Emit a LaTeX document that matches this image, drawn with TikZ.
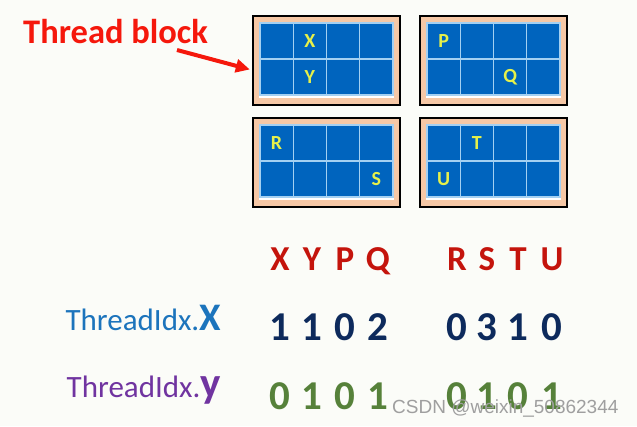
\documentclass[tikz,border=0pt]{standalone}
\usepackage{fontspec}
\setmainfont{Carlito}
\newfontfamily\markfont{Liberation Sans}
\usepackage{tikz}
\usetikzlibrary{positioning}
\usetikzlibrary{arrows.meta}
\usepackage{xcolor}
\definecolor{paper}{HTML}{FBFCF8}
\definecolor{peach}{HTML}{F6C8A6}
\definecolor{cellblue}{HTML}{0064BE}
\definecolor{gridline}{HTML}{A4D0F2}
\definecolor{tagyellow}{HTML}{E6F04A}
\definecolor{alertred}{HTML}{F5180C}
\definecolor{headred}{HTML}{C4140C}
\definecolor{navy}{HTML}{0D2A5C}
\definecolor{leaf}{HTML}{56813A}
\definecolor{idxblue}{HTML}{1C74BC}
\definecolor{idxpurple}{HTML}{7034A0}

\begin{document}
\begin{tikzpicture}[x=1pt,y=-1pt,
  frame/.style={draw=black,line width=2.5pt,fill=peach,minimum width=147pt,minimum height=89pt,inner sep=0pt},
  cell/.style={draw=gridline,line width=1.2pt,fill=cellblue,minimum width=33.25pt,minimum height=36pt,inner sep=0pt},
  tag/.style={text=tagyellow,inner sep=0pt,font=\bfseries\fontsize{20}{24}\selectfont},
  head/.style={anchor=base,inner sep=0pt,text=headred,font=\bfseries\fontsize{35}{40}\selectfont},
  xval/.style={anchor=base,inner sep=0pt,text=navy,font=\bfseries\fontsize{41}{46}\selectfont},
  yval/.style={anchor=base,inner sep=0pt,text=leaf,font=\bfseries\fontsize{41}{46}\selectfont},
  pointer/.style={draw=alertred,line width=4pt,-{Triangle[length=14pt,width=13pt]},shorten >=2pt}]
  \fill[paper] (0,0) rectangle (637,426);

  \foreach \blk/\cx/\cy in {blkA/326.5/60.5, blkB/493.5/60.5, blkC/326.5/162.5, blkD/493.5/162.5}{
    \node[frame] (\blk) at (\cx,\cy) {};
    \foreach \r in {1,2}
      \foreach \c in {1,...,4}
        \node[cell] (\blk-\r-\c) at (\cx-66.5+33.25*\c-16.625, \cy-37.5+36*\r-18) {};
    \draw[white,line width=2pt] ([yshift=-1.2pt]\blk-2-1.south west) -- ([yshift=-1.2pt]\blk-2-4.south east);
  }
  \foreach \blk/\r/\c/\ch in {blkA/1/2/X, blkA/2/2/Y, blkB/1/1/P, blkB/2/3/Q,
                              blkC/1/1/R, blkC/2/4/S, blkD/1/2/T, blkD/2/1/U}
    \node[tag] (tag\ch) at (\blk-\r-\c) {\ch};

  \node[anchor=base west,inner sep=0pt,text=alertred,font=\bfseries\fontsize{34.5}{40}\selectfont] (tb) at (23,43) {Thread block};
  \coordinate (tail) at (177,50);
  \draw[pointer] (tail) -- ([yshift=-9.5pt]blkA.west);

  \foreach \ch/\x in {X/280,Y/312,P/345,Q/378,R/457,S/487,T/518,U/552}
    \node[head] (h\ch) at (\x,270) {\ch};
  \foreach \ch/\d/\e in {X/1/0, Y/1/1, P/0/0, Q/2/1, R/0/0, S/3/1, T/1/0, U/0/1}{
    \node[xval] (x\ch) at (h\ch.base |- 0,340) {\d};
    \node[yval] (y\ch) at (h\ch.base |- 0,409) {\e};
  }

  \node[anchor=base east,inner sep=0pt,text=idxblue,font=\fontsize{31}{36}\selectfont] (labx) at (221,330)
    {ThreadIdx.{\bfseries\fontsize{39}{44}\selectfont X}};
  \node[anchor=base east,inner sep=0pt,text=idxpurple,font=\fontsize{31}{36}\selectfont] (laby) at (221,397)
    {ThreadIdx.{\bfseries\fontsize{43}{48}\selectfont y}};

  \node[anchor=base west,inner sep=0pt,text=gray!75,font=\markfont\fontsize{19}{22}\selectfont] (mark) at (392,413)
    {CSDN @weixin\_50862344};
\end{tikzpicture}
\end{document}
